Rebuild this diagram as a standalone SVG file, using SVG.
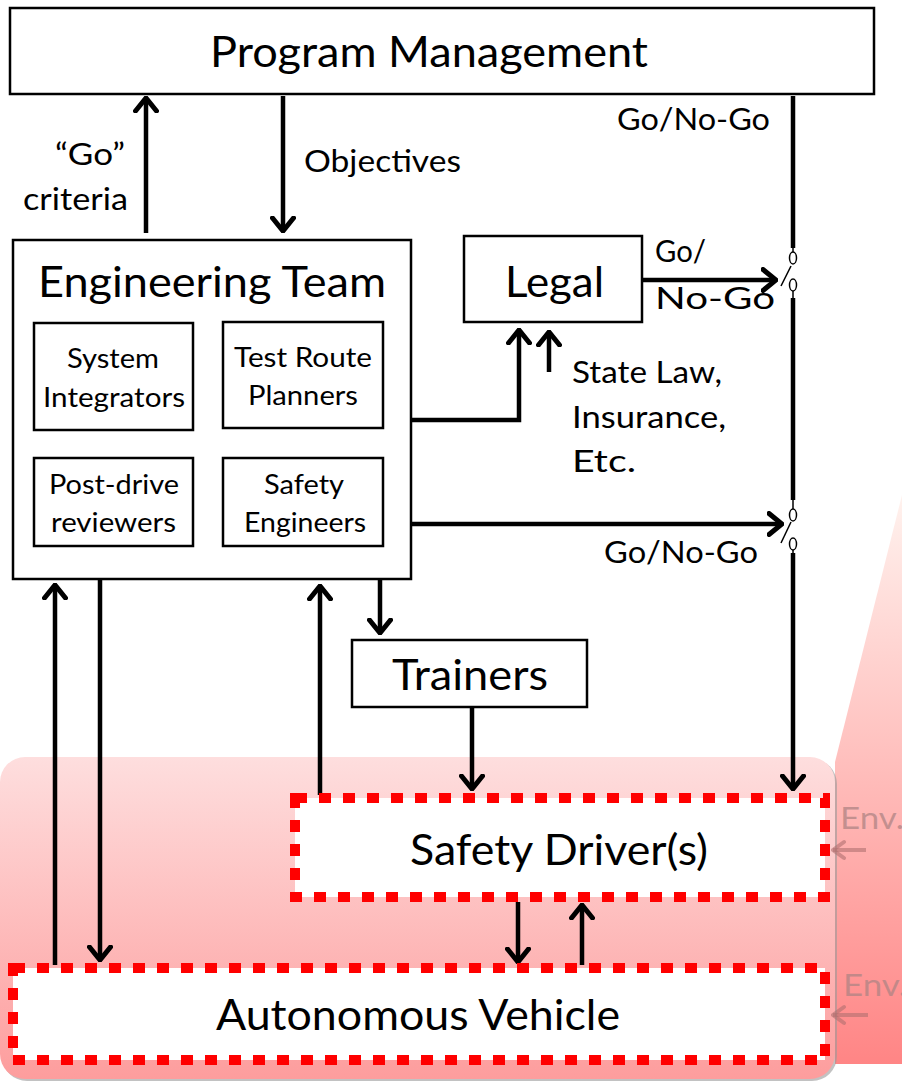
<svg xmlns="http://www.w3.org/2000/svg" width="902" height="1081" viewBox="0 0 902 1081">
  <defs>
    <linearGradient id="zoneFill" x1="0" y1="0" x2="0" y2="1">
      <stop offset="0" stop-color="#fedede"/>
      <stop offset="1" stop-color="#fd9d9d"/>
    </linearGradient>
    <linearGradient id="wedgeFill" x1="0" y1="0" x2="0" y2="1">
      <stop offset="0" stop-color="#fff2ee"/>
      <stop offset="1" stop-color="#ff8585"/>
    </linearGradient>
    <marker id="arr" markerUnits="userSpaceOnUse" viewBox="-15 -13 17 26" refX="0" refY="0" markerWidth="17" markerHeight="26" orient="auto">
      <path d="M-13,-10.5 L0,0 L-13,10.5" fill="none" stroke="#000" stroke-width="5" stroke-linecap="round" stroke-linejoin="miter"/>
    </marker>
    <marker id="envArr" markerUnits="userSpaceOnUse" viewBox="-14 -12 16 24" refX="0" refY="0" markerWidth="16" markerHeight="24" orient="auto">
      <path d="M-11,-8 L0,0 L-11,8" fill="none" stroke="#b07070" stroke-opacity="0.6" stroke-width="4" stroke-linecap="round"/>
    </marker>
  </defs>
  <style>
    text { font-family: Lato, "Open Sans", "Liberation Sans", sans-serif; fill: #000; }
    .big { font-size: 42px; text-anchor: middle; }
    .small { font-size: 27px; text-anchor: middle; }
    .lbl { font-size: 30px; }
    .box { fill: #fff; stroke: #000; stroke-width: 2.5; }
    .dash { fill: #fff; stroke: #ff0000; stroke-width: 10; stroke-dasharray: 12 12; }
    .wire { fill: none; stroke: #000; stroke-width: 4.5; }
    .thin { fill: none; stroke: #000; stroke-width: 1.5; }
    .env { font-size: 31px; fill: #b08484; fill-opacity: 0.75; }
  </style>

  <!-- operational zone background -->
  <g id="zone">
    <polygon points="835,762 902,495 902,1064 835,1064" fill="url(#wedgeFill)"/>
    <rect x="2" y="759" width="835" height="322" rx="25" fill="#9a9a9a" opacity="0.6"/>
    <rect x="0" y="757" width="835" height="322" rx="25" fill="url(#zoneFill)"/>
  </g>

  <!-- connectors -->
  <g id="connectors">
    <!-- "Go" criteria -->
    <line class="wire" x1="146" y1="233" x2="146" y2="98" marker-end="url(#arr)"/>
    <!-- Objectives -->
    <line class="wire" x1="283" y1="96" x2="283" y2="231" marker-end="url(#arr)"/>
    <!-- Go/No-Go main line with two switches -->
    <line class="wire" x1="793" y1="96" x2="793" y2="248"/>
    <line class="thin" x1="793" y1="248" x2="793" y2="252"/>
    <ellipse class="thin" cx="793" cy="258" rx="3.5" ry="6" fill="#fff"/>
    <ellipse class="thin" cx="793" cy="285" rx="3.5" ry="6" fill="#fff"/>
    <line class="thin" x1="793" y1="291" x2="793" y2="298"/>
    <line class="thin" x1="781" y1="286" x2="791" y2="266"/>
    <line class="wire" x1="793" y1="298" x2="793" y2="500"/>
    <line class="thin" x1="793" y1="500" x2="793" y2="509"/>
    <ellipse class="thin" cx="793" cy="515" rx="3.5" ry="6" fill="#fff"/>
    <ellipse class="thin" cx="793" cy="544" rx="3.5" ry="6" fill="#fff"/>
    <line class="thin" x1="793" y1="550" x2="793" y2="553"/>
    <line class="thin" x1="781" y1="543" x2="791" y2="522"/>
    <line class="wire" x1="793" y1="553" x2="793" y2="789" marker-end="url(#arr)"/>
    <!-- Legal Go/No-Go -->
    <line class="wire" x1="642" y1="280" x2="776" y2="280" marker-end="url(#arr)"/>
    <!-- Engineering to Legal -->
    <polyline class="wire" points="411,420 519,420 519,330" marker-end="url(#arr)"/>
    <!-- State law etc. -->
    <line class="wire" x1="549" y1="372" x2="549" y2="332" marker-end="url(#arr)"/>
    <!-- Engineering Go/No-Go -->
    <line class="wire" x1="411" y1="524" x2="782" y2="524" marker-end="url(#arr)"/>
    <!-- Engineering to Trainers -->
    <line class="wire" x1="380" y1="580" x2="380" y2="633" marker-end="url(#arr)"/>
    <!-- Trainers to Safety Driver -->
    <line class="wire" x1="472" y1="707" x2="472" y2="789" marker-end="url(#arr)"/>
    <!-- Safety Driver to Engineering -->
    <line class="wire" x1="320" y1="795" x2="320" y2="586" marker-end="url(#arr)"/>
    <!-- Vehicle to Engineering -->
    <line class="wire" x1="55" y1="965" x2="55" y2="585" marker-end="url(#arr)"/>
    <!-- Engineering to Vehicle -->
    <line class="wire" x1="100" y1="580" x2="100" y2="960" marker-end="url(#arr)"/>
    <!-- Safety Driver <-> Vehicle -->
    <line class="wire" x1="518" y1="902" x2="518" y2="962" marker-end="url(#arr)"/>
    <line class="wire" x1="582" y1="965" x2="582" y2="905" marker-end="url(#arr)"/>
    <!-- environment inputs -->
    <line x1="866" y1="850" x2="833" y2="850" stroke="#b07070" stroke-opacity="0.6" stroke-width="4" marker-end="url(#envArr)"/>
    <line x1="868" y1="1015" x2="833" y2="1015" stroke="#b07070" stroke-opacity="0.6" stroke-width="4" marker-end="url(#envArr)"/>
  </g>

  <!-- connector labels -->
  <g id="labels">
    <text class="lbl" x="55" y="165" textLength="70" lengthAdjust="spacingAndGlyphs">“Go”</text>
    <text class="lbl" x="23" y="210" textLength="105" lengthAdjust="spacingAndGlyphs">criteria</text>
    <text class="lbl" x="304" y="172" textLength="157" lengthAdjust="spacingAndGlyphs">Objectives</text>
    <text class="lbl" x="617" y="130" textLength="153" lengthAdjust="spacingAndGlyphs">Go/No-Go</text>
    <text class="lbl" x="655" y="262" textLength="51" lengthAdjust="spacingAndGlyphs">Go/</text>
    <text class="lbl" x="655" y="309" textLength="120" lengthAdjust="spacingAndGlyphs">No-Go</text>
    <text class="lbl" x="572" y="383" textLength="150" lengthAdjust="spacingAndGlyphs">State Law,</text>
    <text class="lbl" x="572" y="428" textLength="154" lengthAdjust="spacingAndGlyphs">Insurance,</text>
    <text class="lbl" x="572" y="472" textLength="64" lengthAdjust="spacingAndGlyphs">Etc.</text>
    <text class="lbl" x="604" y="563" textLength="154" lengthAdjust="spacingAndGlyphs">Go/No-Go</text>
    <text class="env" x="840" y="829" textLength="64" lengthAdjust="spacingAndGlyphs">Env.</text>
    <text class="env" x="843" y="996" textLength="64" lengthAdjust="spacingAndGlyphs">Env.</text>
  </g>

  <g id="program-management">
    <rect class="box" x="10" y="8" width="864" height="86"/>
    <text class="big" x="429" y="67" textLength="438" lengthAdjust="spacingAndGlyphs">Program Management</text>
  </g>

  <g id="engineering-team">
    <rect class="box" x="13" y="240" width="398" height="339"/>
    <text class="big" x="212" y="297" textLength="348" lengthAdjust="spacingAndGlyphs">Engineering Team</text>
  </g>
  <g id="system-integrators">
    <rect class="box" x="34" y="323" width="159" height="107"/>
    <text class="small" x="113" y="368" textLength="92" lengthAdjust="spacingAndGlyphs">System</text>
    <text class="small" x="114" y="407" textLength="142" lengthAdjust="spacingAndGlyphs">Integrators</text>
  </g>
  <g id="test-route-planners">
    <rect class="box" x="223" y="322" width="160" height="106"/>
    <text class="small" x="303" y="367" textLength="138" lengthAdjust="spacingAndGlyphs">Test Route</text>
    <text class="small" x="303" y="405" textLength="110" lengthAdjust="spacingAndGlyphs">Planners</text>
  </g>
  <g id="post-drive-reviewers">
    <rect class="box" x="34" y="458" width="159" height="88"/>
    <text class="small" x="114" y="494" textLength="130" lengthAdjust="spacingAndGlyphs">Post-drive</text>
    <text class="small" x="113.5" y="532" textLength="125" lengthAdjust="spacingAndGlyphs">reviewers</text>
  </g>
  <g id="safety-engineers">
    <rect class="box" x="223" y="458" width="160" height="88"/>
    <text class="small" x="304" y="494" textLength="80" lengthAdjust="spacingAndGlyphs">Safety</text>
    <text class="small" x="305" y="532" textLength="122" lengthAdjust="spacingAndGlyphs">Engineers</text>
  </g>

  <g id="legal">
    <rect class="box" x="464" y="236" width="178" height="86"/>
    <text class="big" x="554.5" y="297" textLength="99" lengthAdjust="spacingAndGlyphs">Legal</text>
  </g>

  <g id="trainers">
    <rect class="box" x="352" y="640" width="235" height="67"/>
    <text class="big" x="470" y="690" textLength="156" lengthAdjust="spacingAndGlyphs">Trainers</text>
  </g>

  <g id="safety-drivers">
    <rect class="dash" x="295" y="798" width="530" height="99"/>
    <text class="big" x="559" y="865" textLength="298" lengthAdjust="spacingAndGlyphs">Safety Driver(s)</text>
  </g>

  <g id="autonomous-vehicle">
    <rect class="dash" x="13" y="968" width="812" height="92"/>
    <text class="big" x="418" y="1030" textLength="404" lengthAdjust="spacingAndGlyphs">Autonomous Vehicle</text>
  </g>
</svg>
